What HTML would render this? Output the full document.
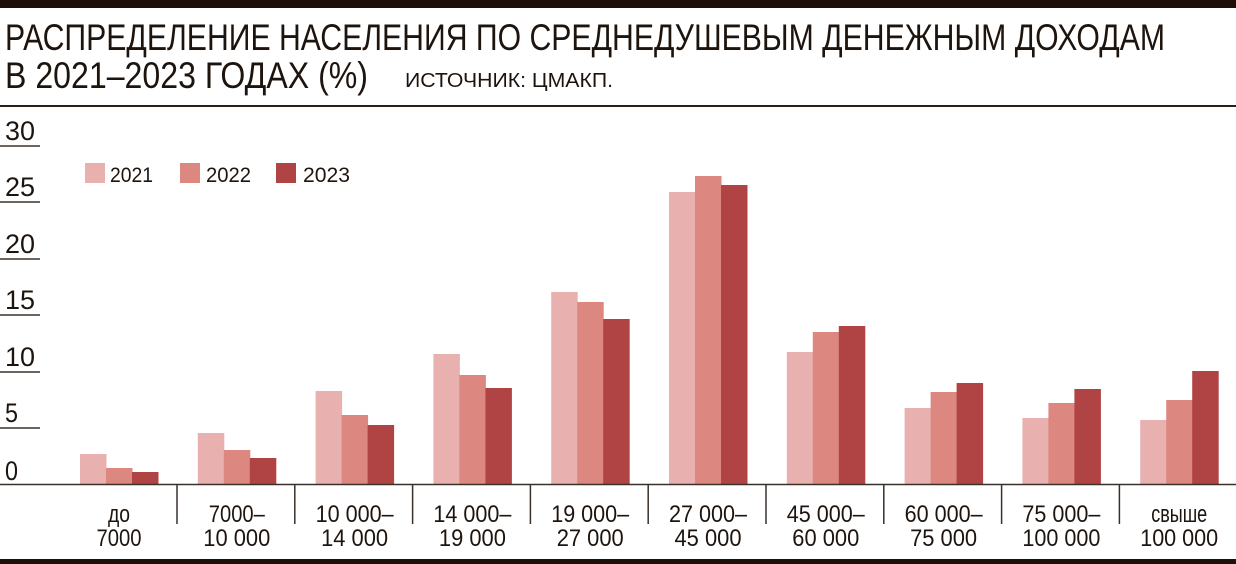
<!DOCTYPE html>
<html><head><meta charset="utf-8"><style>
html,body{margin:0;padding:0;background:#fff;}
svg{display:block;}
text{font-family:"Liberation Sans Narrow","Liberation Sans",sans-serif;fill:#1e140e;}
</style></head><body>
<svg width="1236" height="564" viewBox="0 0 1236 564" xmlns="http://www.w3.org/2000/svg">
<rect x="0" y="0" width="1236" height="8" fill="#1e0f08"/>
<text x="5" y="50" font-size="37" textLength="1160" lengthAdjust="spacingAndGlyphs">РАСПРЕДЕЛЕНИЕ НАСЕЛЕНИЯ ПО СРЕДНЕДУШЕВЫМ ДЕНЕЖНЫМ ДОХОДАМ</text>
<text x="5" y="88" font-size="37" textLength="363" lengthAdjust="spacingAndGlyphs">В 2021–2023 ГОДАХ (%)</text>
<text x="405" y="87" font-size="20" textLength="208" lengthAdjust="spacingAndGlyphs">ИСТОЧНИК: ЦМАКП.</text>
<rect x="0" y="105" width="1236" height="2" fill="#2a1e16"/>
<g stroke="#3a302a" stroke-width="1.5">
<line x1="0" y1="146" x2="40" y2="146"/><line x1="0" y1="202" x2="40" y2="202"/>
<line x1="0" y1="259" x2="40" y2="259"/><line x1="0" y1="315" x2="40" y2="315"/>
<line x1="0" y1="372" x2="40" y2="372"/><line x1="0" y1="428" x2="40" y2="428"/>
</g>
<g font-size="27">
<text x="5" y="140" textLength="30" lengthAdjust="spacingAndGlyphs">30</text>
<text x="5" y="196" textLength="30" lengthAdjust="spacingAndGlyphs">25</text>
<text x="5" y="253" textLength="30" lengthAdjust="spacingAndGlyphs">20</text>
<text x="5" y="309" textLength="30" lengthAdjust="spacingAndGlyphs">15</text>
<text x="5" y="366" textLength="30" lengthAdjust="spacingAndGlyphs">10</text>
<text x="5" y="422" textLength="13" lengthAdjust="spacingAndGlyphs">5</text>
<text x="5" y="480" textLength="13" lengthAdjust="spacingAndGlyphs">0</text>
</g>
<rect x="85" y="163" width="20" height="20" fill="#e8b0ae"/>
<text x="110" y="182" font-size="21" textLength="43" lengthAdjust="spacingAndGlyphs">2021</text>
<rect x="180" y="163" width="20" height="20" fill="#dc877f"/>
<text x="206" y="182" font-size="21" textLength="45" lengthAdjust="spacingAndGlyphs">2022</text>
<rect x="276" y="163" width="20" height="20" fill="#b04444"/>
<text x="303" y="182" font-size="21" textLength="47" lengthAdjust="spacingAndGlyphs">2023</text>
<g id="bars"></g>
<line x1="0" y1="484.5" x2="1236" y2="484.5" stroke="#3a302a" stroke-width="1.5"/>
<g id="seps" stroke="#3a302a" stroke-width="1.5"></g>
<g id="labels" font-size="24" text-anchor="middle"></g>
<rect x="0" y="559" width="1236" height="5" fill="#1e0f08"/>
</svg>
<script>
var tops=[[454,468,472],[433,450,458],[391,415,425],[354,375,388],[292,302,319],[192,176,185],[352,332,326],[408,392,383],[418,403,389],[420,400,371]];
var cols=["#e8b0ae","#dc877f","#b04444"];
var labs=[["до","7000"],["7000–","10 000"],["10 000–","14 000"],["14 000–","19 000"],["19 000–","27 000"],["27 000–","45 000"],["45 000–","60 000"],["60 000–","75 000"],["75 000–","100 000"],["свыше","100 000"]];
var ns="http://www.w3.org/2000/svg";
var b=document.getElementById("bars"),s=document.getElementById("seps"),l=document.getElementById("labels");
for(var i=0;i<10;i++){
 var x0=80+117.8*i;
 for(var j=0;j<3;j++){var r=document.createElementNS(ns,"rect");r.setAttribute("x",x0+26*j);r.setAttribute("y",tops[i][j]);r.setAttribute("width",26.5);r.setAttribute("height",484-tops[i][j]);r.setAttribute("fill",cols[j]);b.appendChild(r);}
 if(i<9){var ln=document.createElementNS(ns,"line");var sx=177+117.8*i;ln.setAttribute("x1",sx);ln.setAttribute("x2",sx);ln.setAttribute("y1",484);ln.setAttribute("y2",524);s.appendChild(ln);}
 var cx=x0+39;
 for(var k=0;k<2;k++){var t=document.createElementNS(ns,"text");t.setAttribute("x",cx);t.setAttribute("y",k?546:522);t.textContent=labs[i][k];
  var n=labs[i][k].length;t.setAttribute("textLength",Math.round(n*11.2));t.setAttribute("lengthAdjust","spacingAndGlyphs");l.appendChild(t);}
}
</script>
</body></html>
